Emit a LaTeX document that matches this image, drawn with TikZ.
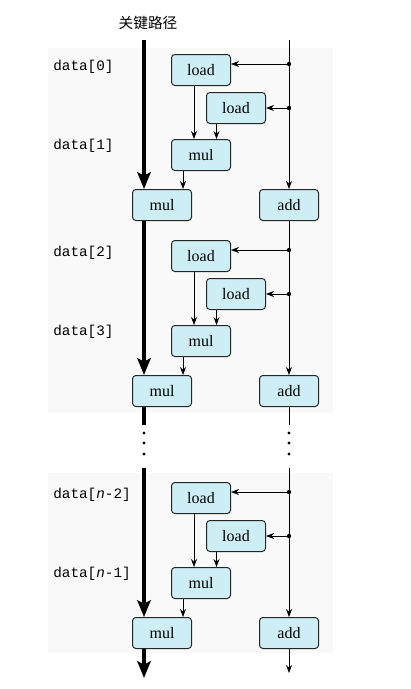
\documentclass[tikz,border=0pt]{standalone}
\usepackage{fontspec}
\setmainfont{Liberation Serif}
\setmonofont{Liberation Mono}
\newfontfamily\cjk{Noto Sans CJK SC}
\usepackage{xcolor}
\usepackage{tikz}
\usetikzlibrary{arrows.meta, positioning, backgrounds}
\definecolor{opfill}{RGB}{206,238,246}

\begin{document}
\begin{tikzpicture}[x=0.6pt, y=-0.6pt,
  op/.style={rectangle, rounded corners=2pt, draw=black!85, fill=opfill, line width=0.6pt,
    minimum width=35.4pt, minimum height=18.6pt, inner sep=0pt, font=\fontsize{9.6}{10}\selectfont},
  lbl/.style={anchor=west, inner sep=0pt, font=\ttfamily\fontsize{8.6}{10}\selectfont},
  arr/.style={-{Stealth[length=4.8pt, width=3.6pt]}, line width=0.5pt},
  crit/.style={-{Stealth[length=10pt, width=8pt, inset=2pt]}, line width=2.4pt},
  rail/.style={line width=0.5pt}
]
  \useasboundingbox (0,0) rectangle (411,689);
  \fill[gray!5] (48,48) rectangle (333,413);
  \fill[gray!5] (48,473) rectangle (333,653);

  \node[font=\cjk\fontsize{8.8}{10}\selectfont] (title) at (148,23) {关键路径};

  % one block per pair of elements
  \foreach \s/\o/\a/\b in {1/0/0/1, 2/186/2/3, 3/428/{\textit{n}-2}/{\textit{n}-1}}{
    \node[lbl] (d\s a) at (53,67+\o) {data[\a]};
    \node[lbl] (d\s b) at (53,146+\o) {data[\b]};
    \node[op] (l\s a) at (201,70+\o) {load};
    \node[op] (l\s b) at (236,108+\o) {load};
    \node[op] (m\s) at (201,155+\o) {mul};
    \node[op] (M\s) at (162,205+\o) {mul};
    \node[op] (A\s) at (289,205+\o) {add};
    \coordinate (t\s a) at (289,64+\o);
    \coordinate (t\s b) at (289,108+\o);
    \fill (t\s a) circle (1.3pt);
    \fill (t\s b) circle (1.3pt);
    \draw[arr] (t\s a) -- (t\s a -| l\s a.east);
    \draw[arr] (t\s b) -- (l\s b.east);
    \coordinate (p\s a) at ([xshift=-4.2pt]l\s a.south);
    \coordinate (p\s b) at ([xshift=-11.7pt]l\s b.south);
    \coordinate (p\s m) at ([xshift=-10.8pt]m\s.south);
    \draw[arr] (p\s a) -- (p\s a |- m\s.north);
    \draw[arr] (p\s b) -- (p\s b |- m\s.north);
    \draw[arr] (p\s m) -- (p\s m |- M\s.north);
  }

  % critical path and add chain
  \coordinate (ctop1) at (144,40);
  \coordinate (rtop1) at (289,40);
  \coordinate (ctop3) at (144,468);
  \coordinate (rtop3) at (289,468);
  \coordinate (cgap) at (144,425);
  \coordinate (rgap) at (289,425);
  \coordinate (cend) at (144,678);
  \coordinate (rend) at (289,673);

  \draw[crit] (ctop1) -- (ctop1 |- M1.north);
  \draw[crit] (ctop1 |- M1.south) -- (ctop1 |- M2.north);
  \draw[line width=2.4pt] (ctop1 |- M2.south) -- (cgap);
  \draw[crit] (ctop3) -- (ctop3 |- M3.north);
  \draw[crit] (ctop3 |- M3.south) -- (cend);

  \draw[arr] (rtop1) -- (A1.north);
  \draw[arr] (A1.south) -- (A2.north);
  \draw[rail] (A2.south) -- (rgap);
  \draw[arr] (rtop3) -- (A3.north);
  \draw[arr] (A3.south) -- (rend);

  \foreach \y in {433,443,454}{
    \fill (144,\y) circle (1pt);
    \fill (289,\y) circle (1pt);
  }
\end{tikzpicture}
\end{document}
